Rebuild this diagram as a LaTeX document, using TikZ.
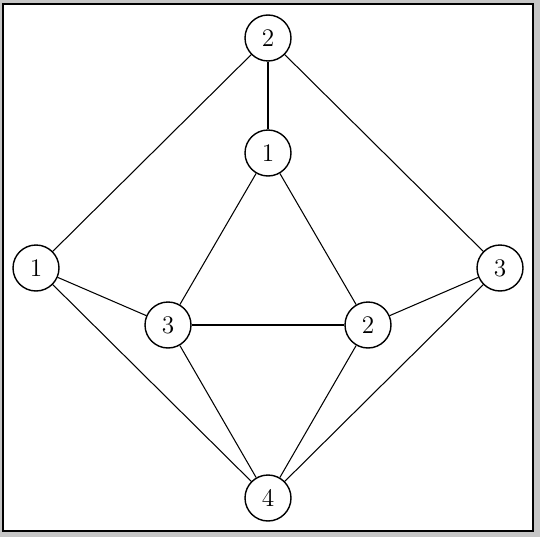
\documentclass[tikz,border=0pt]{standalone}
\begin{document}
\begin{tikzpicture}[
  x=0.02cm, y=-0.02cm,
  font=\Large,
  vert/.style={draw, circle, line width=.8pt, minimum size=0.92cm, inner sep=0pt, fill=white},
  edge/.style={line width=.6pt}
]
  \fill[gray!45] (0,0) rectangle (540,537);
  \draw[fill=white, line width=.7pt] (3,4) rectangle (533,531);
  \node[vert] (top) at (268,38) {2};
  \node[vert] (mid) at (268,153) {1};
  \node[vert] (left) at (36,268) {1};
  \node[vert] (right) at (500,268) {3};
  \node[vert] (inl) at (168,325) {3};
  \node[vert] (inr) at (368,325) {2};
  \node[vert] (bot) at (268,498) {4};
  \draw[edge] (top) -- (mid);
  \draw[edge] (top) -- (left);
  \draw[edge] (top) -- (right);
  \draw[edge] (mid) -- (inl);
  \draw[edge] (mid) -- (inr);
  \draw[edge] (inl) -- (inr);
  \draw[edge] (left) -- (inl);
  \draw[edge] (left) -- (bot);
  \draw[edge] (right) -- (inr);
  \draw[edge] (right) -- (bot);
  \draw[edge] (inl) -- (bot);
  \draw[edge] (inr) -- (bot);
\end{tikzpicture}
\end{document}
